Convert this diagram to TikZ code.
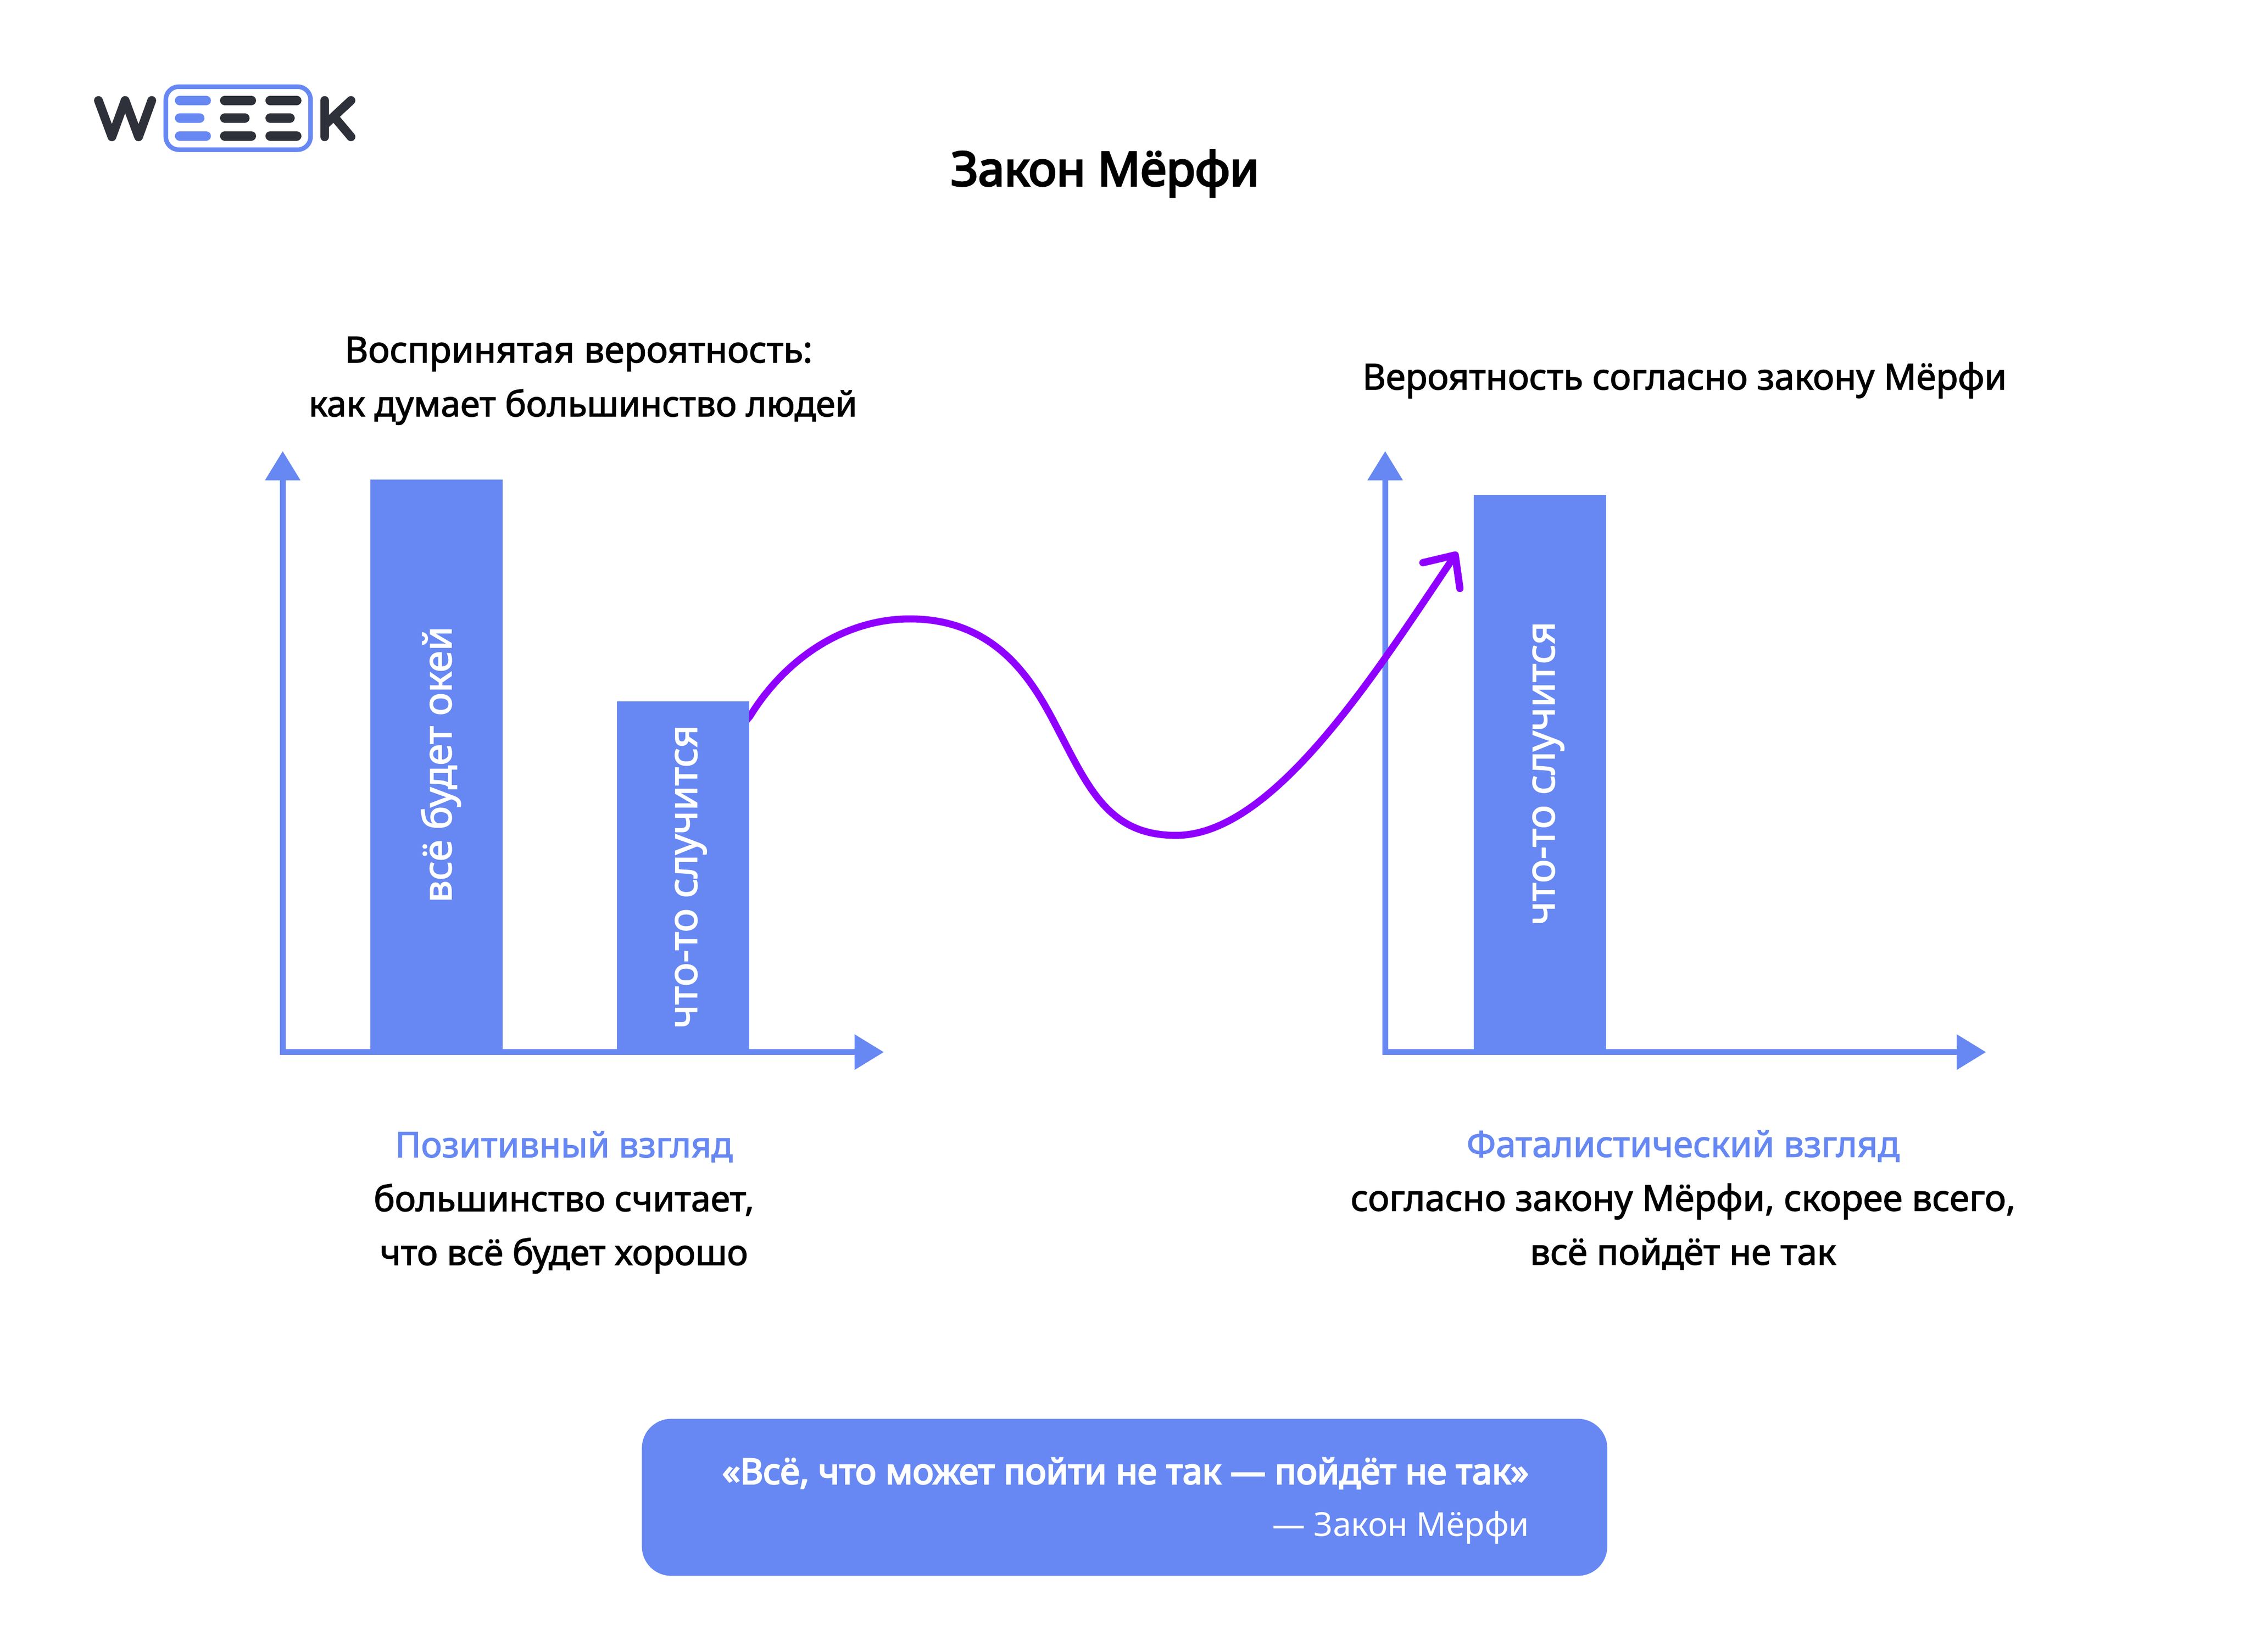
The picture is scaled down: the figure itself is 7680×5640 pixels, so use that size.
\documentclass[tikz,border=0pt]{standalone}
\usepackage{fontspec}
\setmainfont[FakeBold=2]{Noto Sans}
\newfontfamily\fsemi[FakeBold=4]{Noto Sans}
\newfontfamily\flight{Noto Sans}
\definecolor{wblue}{HTML}{6788F3}
\definecolor{wdark}{HTML}{2E3139}
\definecolor{wpurple}{HTML}{8F00FF}
\usetikzlibrary{arrows.meta,calc}
\pgfdeclarelayer{axes}
\pgfdeclarelayer{curve}
\pgfsetlayers{axes,curve,main}
\tikzset{
  px/.style={x=0.1pt,y=-0.1pt},
  axisline/.style={draw=wblue,line width=2pt,{Triangle[length=10pt,width=11.6pt,fill=wblue]}-{Triangle[length=10pt,width=11.6pt,fill=wblue]},line join=miter},
  barbox/.style={fill=wblue,draw=none,inner sep=0pt,anchor=north west},
  barlabel/.style={text=white,font=\fontsize{13.4}{15}\selectfont,rotate=90,inner sep=0pt},
  body/.style={font=\fontsize{12.04}{18.4}\selectfont,align=center,text=black,inner sep=0pt},
  bodyr/.style={body,font=\fontsize{12.25}{18.4}\selectfont},
  logostroke/.style={draw=wdark,line width=3pt,line cap=round,line join=round},
  dashblue/.style={draw=wblue,line width=3.2pt,line cap=round},
  dashdark/.style={draw=wdark,line width=3.2pt,line cap=round}
}
\begin{document}
\begin{tikzpicture}[px]
\useasboundingbox (0,0) rectangle (7680,5640);
% logo
\draw[logostroke] (336,343)--(382,467)--(427,343)--(473,467)--(518,343);
\draw[draw=wblue,line width=1.55pt,rounded corners=4.4pt] (566,296) rectangle (1060,511);
\foreach \y/\a/\b/\c in {343/704/858/1013, 403/682/836/990, 464/704/858/1013}{
  \draw[dashblue] (613,\y)--(\a,\y);
  \draw[dashdark] (767,\y)--(\b,\y);
  \draw[dashdark] (922,\y)--(\c,\y);
}
\draw[logostroke] (1108,343)--(1108,467);
\draw[logostroke] (1198,343)--(1112,423);
\draw[logostroke] (1144,403)--(1198,467);
% title
\node[font=\fontsize{16.1}{20}\selectfont\fsemi,text=black,inner sep=0pt] (title) at (3772,592) {Закон Мёрфи};
% headers
\node[body] (lhead) at (1990,1300) {{\fontsize{12.34}{18.4}\selectfont Воспринятая вероятность:}\hspace*{3pt}\\как думает большинство людей};
\node[bodyr] (rhead) at (5750,1298) {Вероятность согласно закону Мёрфи};
% left chart
\node[barbox,minimum width=45.2pt,minimum height=195.6pt] (bara) at (1262,1636) {};
\node[barbox,minimum width=45.2pt,minimum height=120pt] (barb) at (2104,2392) {};
\node[barlabel] (la) at (1505,2610) {всё будет окей};
\node[barlabel,font=\fontsize{13.7}{15}\selectfont] (lb) at (2358,2993) {что-то случится};
\coordinate (lo) at (965,3592);
\coordinate (ly) at (965,1540);
\coordinate (lx) at (3017,3592);
\begin{pgfonlayer}{axes}
\draw[axisline] (ly)--(lo)--(lx);
\end{pgfonlayer}
% right chart
\node[barbox,minimum width=45.2pt,minimum height=190.4pt] (barc) at (5028,1688) {};
\node[barlabel,font=\fontsize{13.7}{15}\selectfont] (lc) at (5285,2640) {что-то случится};
\coordinate (ro) at (4728,3592);
\coordinate (ry) at (4728,1540);
\coordinate (rx) at (6779,3592);
\begin{pgfonlayer}{axes}
\draw[axisline] (ry)--(ro)--(rx);
\end{pgfonlayer}
% curve
\coordinate (tip) at (4967,1895);
\coordinate (ah1) at (4857,1921);
\coordinate (ah2) at (4983,2009);
\begin{pgfonlayer}{curve}
\draw[draw=wpurple,line width=2.4pt]
  ($(barb.north east)+(-40,100)$) -- ($(barb.north east)+(0,53)$) .. controls (2680,2250) and (2880,2113) .. (3106,2113)
  .. controls (3420,2113) and (3540,2354) .. (3616,2500)
  .. controls (3720,2700) and (3790,2852) .. (4014,2852)
  .. controls (4350,2852) and (4700,2290) .. (tip);
\draw[draw=wpurple,line width=2.5pt,line cap=round,line join=round] (ah1)--(tip)--(ah2);
\end{pgfonlayer}
% footers
\node[body] (lfoot) at (1925,4105) {\textcolor{wblue}{Позитивный взгляд}\\большинство считает,\\что всё будет хорошо};
\node[bodyr] (rfoot) at (5745,4097) {\textcolor{wblue}{Фаталистический взгляд}\\согласно закону Мёрфи, скорее всего,\\всё пойдёт не так};
% quote
\draw[fill=wblue,draw=none,rounded corners=10pt] (2191,4844) rectangle (5486,5380);
\node[font=\fontsize{12.07}{18.3}\selectfont\fsemi,text=white,anchor=east,inner sep=0pt] (q1) at (5220,5030) {«Всё, что может пойти не так — пойдёт не так»};
\node[font=\fontsize{11.25}{18.3}\selectfont\flight,text=white,anchor=east,inner sep=0pt] (q2) at (5222,5216) {— Закон Мёрфи};
\end{tikzpicture}
\end{document}
